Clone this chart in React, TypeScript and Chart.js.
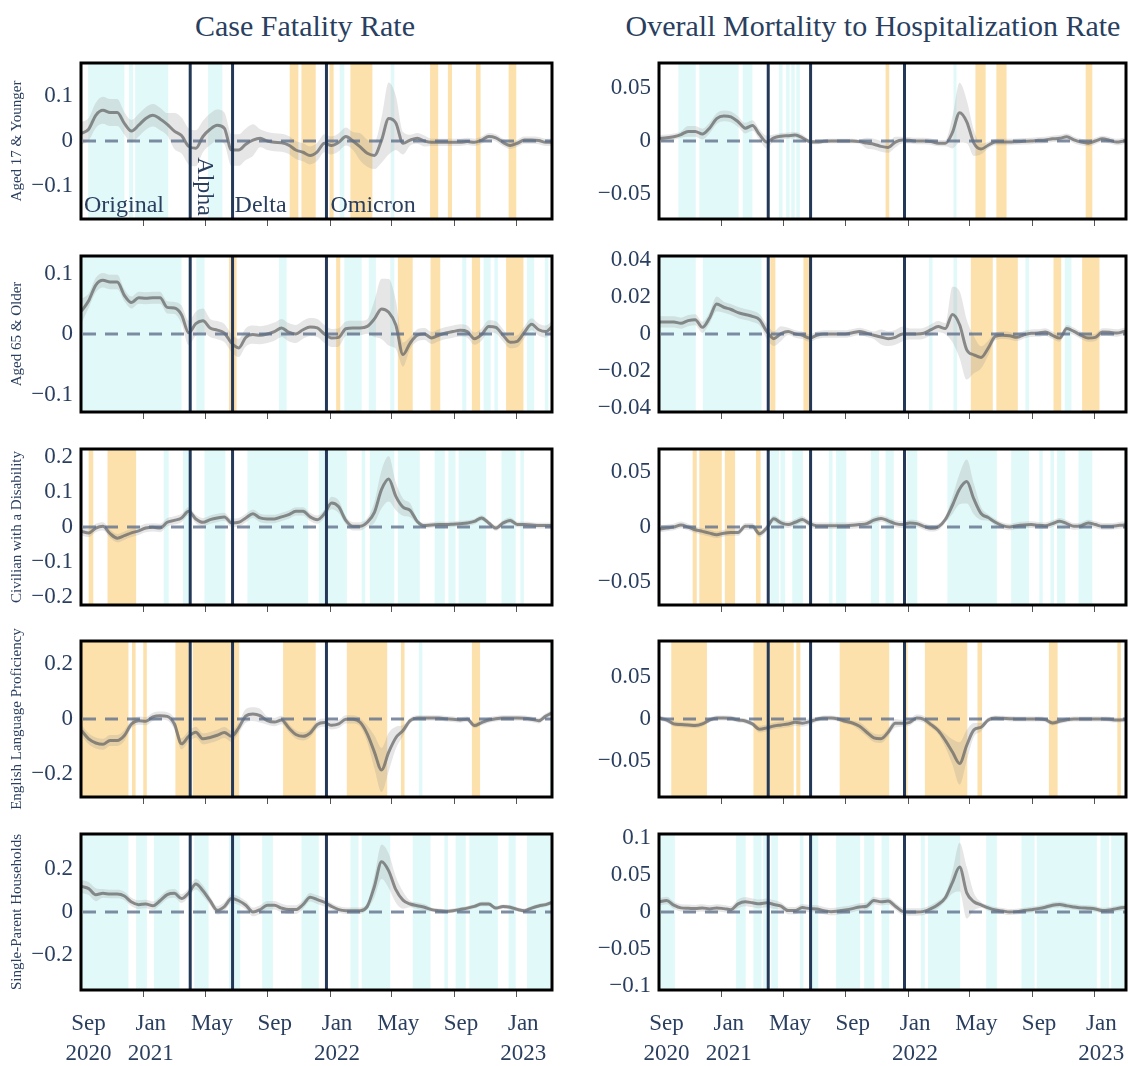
import React, { useEffect, useRef } from "react";
import { Chart, registerables } from "chart.js";

Chart.register(...registerables);

const SERIF = "'Liberation Serif', 'Times New Roman', Times, serif";
const TEXT = "#2a3f5f";
const POS_FILL = "rgba(150, 232, 232, 0.28)";
const NEG_FILL = "rgba(252, 196, 90, 0.5)";
const BAND_FILL = "rgba(140, 140, 140, 0.22)";
const LINE_COLOR = "rgba(100, 100, 100, 0.72)";
const ZERO_COLOR = "rgba(95, 112, 140, 0.8)";
const VLINE_COLOR = "#243858";

// ---- data: days since 1 Sep 2020 ----
const DAYS = [0,14,28,42,56,70,84,98,112,126,140,154,168,182,196,210,224,238,252,266,280,294,308,322,336,350,364,378,392,406,420,434,448,462,476,490,504,518,532,546,560,574,588,602,616,630,644,658,672,686,700,714,728,742,756,770,784,798,812,826,840,854,868,882,896,910,924];

const X_TICK_DAYS = [0, 122, 242, 365, 487, 607, 730, 852];
const X_TICK_LABELS = [["Sep", "2020"], ["Jan", "2021"], ["May"], ["Sep"], ["Jan", "2022"], ["May"], ["Sep"], ["Jan", "2023"]];
const VARIANT_DAYS = [213, 296, 480];
const VARIANT_NAMES = ["Original", "Alpha", "Delta", "Omicron"];

const COL_TITLES = ["Case Fatality Rate", "Overall Mortality to Hospitalization Rate"];
const ROW_LABELS = ["Aged 17 & Younger", "Aged 65 & Older", "Civilian with a Disability", "English Language Proficiency", "Single-Parent Households"];

// Row 1: Aged 17 & Younger
const CFR_AGED17 = [0.017,0.026,0.057,0.068,0.063,0.063,0.039,0.022,0.035,0.05,0.057,0.049,0.037,0.022,0.012,-0.012,-0.016,0.01,0.026,0.035,0.028,-0.02,-0.02,-0.007,0.002,0.006,0,-0.003,-0.004,-0.009,-0.02,-0.025,-0.032,-0.024,-0.005,-0.01,-0.003,0.01,0,-0.013,-0.027,-0.032,0.002,0.05,0.04,-0.005,0.002,0.006,0,-0.003,-0.003,-0.003,-0.003,-0.003,-0.001,-0.003,0.002,0.01,0.007,-0.003,-0.01,-0.005,0.002,0.002,0.001,-0.003,-0.003];
const CFR_AGED17_CI = [0.025,0.025,0.028,0.03,0.03,0.03,0.025,0.025,0.025,0.025,0.025,0.025,0.025,0.04,0.04,0.04,0.04,0.035,0.035,0.035,0.035,0.035,0.035,0.035,0.035,0.02,0.02,0.02,0.02,0.02,0.02,0.02,0.02,0.02,0.02,0.02,0.02,0.02,0.02,0.03,0.03,0.03,0.05,0.08,0.06,0.025,0.012,0.012,0.012,0.008,0.008,0.008,0.008,0.008,0.008,0.008,0.008,0.008,0.008,0.008,0.008,0.008,0.008,0.008,0.008,0.008,0.008];
const CFR_AGED17_POS = [[13,84],[93,101],[105,170],[248,276],[506,515],[606,613]];
const CFR_AGED17_NEG = [[408,425],[431,459],[486,494],[527,570],[683,699],[718,726],[773,782],[837,852]];

const MHR_AGED17 = [0.0025,0.003,0.004,0.006,0.009,0.009,0.0065,0.012,0.021,0.0235,0.0225,0.018,0.012,0.0145,0.006,-0.001,0.003,0.0045,0.005,0.0055,0.003,-0.0005,-0.001,-0.0003,0,0,0,0,-0.0006,-0.002,-0.003,-0.005,-0.006,-0.001,0.001,0.0006,0,0,-0.0006,-0.002,-0.002,0.008,0.0265,0.018,-0.002,-0.0075,-0.004,-0.001,-0.001,-0.001,-0.0006,-0.0003,0,0.0006,0.001,0.002,0.0025,0.004,0.001,-0.001,-0.002,0,0.002,0.0006,-0.001,0,0.0006];
const MHR_AGED17_CI = [0.003,0.003,0.003,0.003,0.005,0.005,0.005,0.005,0.005,0.005,0.005,0.005,0.005,0.005,0.005,0.006,0.003,0.003,0.003,0.003,0.003,0.002,0.002,0.002,0.002,0.002,0.002,0.002,0.002,0.005,0.005,0.005,0.005,0.005,0.003,0.003,0.003,0.003,0.003,0.003,0.003,0.015,0.028,0.02,0.012,0.005,0.003,0.003,0.003,0.003,0.003,0.003,0.003,0.003,0.003,0.003,0.003,0.003,0.003,0.003,0.003,0.003,0.003,0.003,0.003,0.003,0.003];
const MHR_AGED17_POS = [[37,71],[78,155],[163,182],[234,241],[248,255],[258,265],[268,275],[576,582]];
const MHR_AGED17_NEG = [[443,450],[619,639],[660,680],[835,848]];

// Row 2: Aged 65 & Older
const CFR_AGED65 = [0.038,0.055,0.081,0.089,0.086,0.086,0.064,0.052,0.06,0.059,0.06,0.06,0.044,0.043,0.032,0.002,0.017,0.022,0.01,0.0065,0.0016,-0.015,-0.023,-0.0055,-0.001,-0.002,0,0.004,0.01,0.003,0,0.007,0.0115,0.01,0,-0.0066,-0.0055,0.0087,0.01,0.01,0.0126,0.025,0.0415,0.036,0.015,-0.034,-0.015,-0.002,0,-0.0066,-0.002,0.0016,0.004,0.006,0.004,-0.0077,-0.001,0.0126,0.011,-0.002,-0.0137,-0.012,0.003,0.016,0.007,0.004,0.014];
const CFR_AGED65_CI = [0.02,0.012,0.012,0.012,0.012,0.012,0.01,0.01,0.01,0.01,0.01,0.01,0.01,0.01,0.015,0.02,0.02,0.02,0.015,0.015,0.015,0.015,0.015,0.015,0.015,0.015,0.015,0.015,0.015,0.015,0.015,0.015,0.015,0.015,0.015,0.015,0.015,0.012,0.012,0.012,0.012,0.03,0.05,0.055,0.04,0.02,0.01,0.01,0.01,0.01,0.01,0.01,0.01,0.01,0.01,0.01,0.01,0.01,0.01,0.01,0.01,0.01,0.01,0.01,0.01,0.01,0.01];
const CFR_AGED65_POS = [[-1,196],[225,241],[387,402],[515,549],[563,577],[605,613],[746,754],[788,802],[809,816],[873,887],[908,915]];
const CFR_AGED65_NEG = [[289,304],[499,507],[620,649],[684,703],[765,781],[832,866]];

const MHR_AGED65 = [0.0065,0.0065,0.0065,0.0058,0.0072,0.0077,0.0036,0.0086,0.0162,0.0144,0.0132,0.0115,0.0105,0.0095,0.0077,0.0014,-0.0025,0.0002,0.0014,0,-0.0007,-0.0022,-0.0007,0,0,0,0,0.0007,0.0014,0.0004,-0.0007,-0.0016,-0.0025,-0.0018,0,0,0,0.0004,0.0023,0.004,0.0029,0.0105,0.005,-0.0085,-0.0112,-0.0126,-0.0076,-0.0013,-0.0007,-0.0009,-0.0018,-0.0004,0.0004,0.0005,0.0011,-0.0007,-0.0022,0.0029,0.0014,-0.0007,-0.0022,-0.0018,0.0011,0.0009,0.0005,0.0014,0.0023];
const MHR_AGED65_CI = [0.003,0.003,0.003,0.003,0.003,0.003,0.003,0.003,0.004,0.003,0.003,0.003,0.003,0.003,0.003,0.004,0.004,0.004,0.002,0.002,0.002,0.002,0.002,0.002,0.002,0.002,0.002,0.002,0.002,0.002,0.002,0.004,0.004,0.004,0.004,0.003,0.003,0.003,0.003,0.003,0.003,0.015,0.018,0.016,0.01,0.006,0.004,0.002,0.002,0.002,0.002,0.002,0.002,0.002,0.002,0.002,0.002,0.002,0.002,0.002,0.002,0.002,0.002,0.002,0.002,0.002,0.002];
const MHR_AGED65_POS = [[-1,71],[85,200],[528,535],[576,583],[717,724],[794,807]];
const MHR_AGED65_NEG = [[217,227],[282,296],[610,653],[660,702],[772,787],[828,862]];

// Row 3: Civilian with a Disability
const CFR_DISAB = [-0.0125,-0.017,-0.003,0.002,-0.019,-0.032,-0.025,-0.017,-0.011,-0.003,-0.001,-0.003,0.0135,0.019,0.026,0.045,0.023,0.0135,0.021,0.026,0.029,0.0115,0.0135,0.026,0.038,0.026,0.023,0.023,0.029,0.0355,0.045,0.045,0.029,0.021,0.038,0.069,0.058,0.019,0.002,0.002,0.0135,0.042,0.108,0.138,0.088,0.057,0.048,0.016,0.004,0.006,0.007,0.007,0.008,0.0096,0.0115,0.016,0.026,0.0115,-0.003,0.0115,0.019,0.007,0.007,0.006,0.004,0.004,0.004];
const CFR_DISAB_CI = [0.012,0.012,0.012,0.012,0.012,0.012,0.012,0.012,0.012,0.012,0.012,0.012,0.012,0.012,0.012,0.012,0.012,0.012,0.012,0.012,0.012,0.012,0.012,0.012,0.012,0.012,0.012,0.012,0.012,0.012,0.012,0.012,0.012,0.012,0.012,0.018,0.018,0.012,0.012,0.012,0.012,0.03,0.055,0.065,0.04,0.025,0.02,0.008,0.008,0.008,0.008,0.008,0.008,0.008,0.008,0.008,0.008,0.008,0.008,0.008,0.008,0.008,0.008,0.008,0.008,0.008,0.008];
const CFR_DISAB_POS = [[161,171],[199,214],[241,282],[325,444],[465,520],[549,556],[565,613],[620,663],[692,712],[719,733],[739,793],[823,851],[860,867]];
const CFR_DISAB_NEG = [[14,23],[51,107]];

const MHR_DISAB = [-0.0019,-0.0009,0,0.0019,0,-0.0025,-0.004,-0.0056,-0.0071,-0.0056,-0.005,-0.005,0.0006,0.0006,-0.0062,-0.0009,0.0074,0.0037,0.0022,0.0043,0.0068,0.0031,0.0012,0.0012,0.0012,0.0012,0.0012,0.0015,0.0022,0.0031,0.0062,0.0077,0.0056,0.0031,0.0022,0.0037,0.0031,0.0006,-0.0012,0,0.0068,0.0198,0.0346,0.0414,0.0253,0.0123,0.0086,0.0043,0.0012,0,0.0012,0.0019,0.0022,0.0015,0.0012,0.0031,0.0052,0.0031,0.0006,0.0012,0.0037,0.0022,0.0006,0.0006,0.0012,0.0019,0.0022];
const MHR_DISAB_CI = [0.003,0.003,0.003,0.003,0.003,0.003,0.003,0.003,0.003,0.003,0.003,0.003,0.003,0.003,0.003,0.003,0.003,0.003,0.003,0.003,0.003,0.003,0.003,0.003,0.003,0.003,0.003,0.003,0.003,0.003,0.003,0.003,0.003,0.003,0.003,0.003,0.003,0.003,0.003,0.003,0.003,0.008,0.014,0.02,0.014,0.006,0.003,0.003,0.003,0.003,0.003,0.003,0.003,0.003,0.003,0.003,0.003,0.003,0.003,0.003,0.003,0.003,0.003,0.003,0.003,0.003,0.003];
const MHR_DISAB_POS = [[217,234],[237,246],[260,281],[332,339],[346,366],[414,430],[443,459],[485,505],[564,661],[689,724],[744,751],[766,773],[779,795],[821,848],[910,920]];
const MHR_DISAB_NEG = [[65,73],[78,122],[128,148],[189,198]];

// Row 4: English Language Proficiency
const CFR_ELP = [-0.042,-0.072,-0.087,-0.092,-0.078,-0.078,-0.06,-0.018,-0.006,-0.008,0.008,0.012,0.0096,-0.018,-0.09,-0.063,-0.048,-0.072,-0.067,-0.059,-0.049,-0.063,-0.032,0.011,0.018,0.012,-0.006,-0.011,-0.0036,-0.032,-0.056,-0.063,-0.051,-0.02,-0.013,-0.023,-0.018,-0.001,-0.001,-0.012,-0.054,-0.12,-0.185,-0.12,-0.068,-0.042,-0.006,0.0036,0.0036,0.0036,0.0036,0.0012,-0.001,-0.0036,-0.001,-0.024,-0.013,-0.0036,0.0012,0.0036,0.0036,0.0036,0.0024,-0.001,-0.006,0.011,0.024];
const CFR_ELP_CI = [0.02,0.02,0.02,0.02,0.02,0.02,0.02,0.015,0.015,0.015,0.015,0.015,0.015,0.02,0.02,0.02,0.02,0.02,0.02,0.02,0.02,0.02,0.02,0.025,0.025,0.025,0.015,0.015,0.015,0.015,0.015,0.015,0.015,0.015,0.015,0.015,0.015,0.015,0.015,0.015,0.03,0.06,0.08,0.07,0.04,0.02,0.01,0.01,0.01,0.01,0.01,0.01,0.01,0.01,0.01,0.01,0.01,0.01,0.01,0.01,0.01,0.01,0.01,0.01,0.01,0.01,0.01];
const CFR_ELP_POS = [[661,668],[918,925]];
const CFR_ELP_NEG = [[-1,92],[99,106],[121,128],[184,212],[218,309],[395,459],[520,599],[626,633],[765,781]];

const MHR_ELP = [0.0012,-0.0012,-0.0058,-0.0066,-0.007,-0.0078,-0.0058,-0.0012,0.0012,0.0012,0.0008,-0.0012,-0.0023,-0.0058,-0.012,-0.0105,-0.0082,-0.007,-0.0058,-0.0039,-0.005,-0.0031,-0.0004,0.0012,0.0012,0,-0.0027,-0.0047,-0.0086,-0.0156,-0.0222,-0.0233,-0.0156,-0.005,-0.005,-0.0039,0.0012,-0.0004,-0.0066,-0.0136,-0.0253,-0.039,-0.0525,-0.031,-0.0128,-0.0097,-0.0012,0.0012,0.0008,0.0004,0,0,0,0,-0.0008,-0.0047,-0.0027,-0.0008,0,0,0,0,0,-0.0004,-0.0012,-0.0008,0];
const MHR_ELP_CI = [0.003,0.003,0.003,0.003,0.003,0.003,0.003,0.003,0.003,0.003,0.003,0.003,0.003,0.003,0.004,0.004,0.004,0.004,0.004,0.004,0.004,0.004,0.003,0.003,0.003,0.003,0.003,0.003,0.005,0.005,0.005,0.005,0.005,0.005,0.004,0.004,0.004,0.004,0.004,0.004,0.008,0.015,0.025,0.018,0.008,0.005,0.003,0.003,0.003,0.003,0.003,0.003,0.003,0.003,0.003,0.003,0.003,0.003,0.003,0.003,0.003,0.003,0.003,0.003,0.003,0.003,0.003];
const MHR_ELP_POS = [];
const MHR_ELP_NEG = [[23,93],[184,263],[268,276],[353,450],[483,486],[520,603],[623,632],[763,780],[897,904]];

// Row 5: Single-Parent Households
const CFR_SINGLE = [0.118,0.108,0.08,0.086,0.083,0.083,0.074,0.046,0.034,0.037,0.029,0.052,0.08,0.086,0.062,0.088,0.129,0.098,0.052,0.008,0.025,0.062,0.052,0.031,0,0.011,0.031,0.031,0.018,0.011,0.011,0.034,0.068,0.057,0.045,0.026,0.011,0.006,0.006,0.006,0.026,0.118,0.232,0.19,0.103,0.055,0.037,0.029,0.022,0.011,0.006,0.003,0.006,0.012,0.018,0.026,0.037,0.037,0.018,0.025,0.022,0.012,0.006,0.018,0.028,0.034,0.046];
const CFR_SINGLE_CI = [0.03,0.03,0.03,0.02,0.02,0.02,0.02,0.02,0.02,0.02,0.02,0.02,0.02,0.02,0.02,0.02,0.025,0.025,0.02,0.02,0.02,0.02,0.02,0.02,0.02,0.02,0.02,0.02,0.02,0.02,0.02,0.02,0.02,0.02,0.02,0.015,0.015,0.015,0.015,0.015,0.015,0.05,0.08,0.08,0.06,0.04,0.015,0.015,0.015,0.01,0.01,0.01,0.01,0.01,0.01,0.01,0.01,0.01,0.01,0.01,0.01,0.01,0.01,0.01,0.01,0.01,0.01];
const CFR_SINGLE_POS = [[-1,92],[107,128],[142,192],[221,249],[289,311],[354,375],[431,465],[527,543],[549,605],[649,684],[711,718],[733,753],[760,816],[837,851],[873,925]];
const CFR_SINGLE_NEG = [];

const MHR_SINGLE = [0.0139,0.0157,0.0093,0.0056,0.0051,0.0046,0.0056,0.0042,0.0056,0.0046,0.0032,0.0111,0.0139,0.0125,0.0111,0.0125,0.0102,0.0079,0.0019,0.0019,0.006,0.0046,0.0042,0.0019,0.0005,0.0014,0.0028,0.0046,0.0069,0.0079,0.0157,0.0139,0.0148,0.0079,0.0009,0,0,0.0009,0.0046,0.0102,0.0194,0.0403,0.061,0.026,0.0139,0.0097,0.0056,0.0028,0.0014,0,0.0005,0.0019,0.0032,0.0046,0.0065,0.0093,0.0102,0.0083,0.0069,0.0056,0.0051,0.0042,0.0019,0.0028,0.0046,0.006,0.0065];
const MHR_SINGLE_CI = [0.005,0.005,0.005,0.005,0.005,0.005,0.005,0.005,0.005,0.005,0.005,0.006,0.006,0.006,0.006,0.006,0.006,0.005,0.005,0.005,0.005,0.005,0.005,0.005,0.005,0.005,0.005,0.005,0.005,0.005,0.005,0.005,0.005,0.005,0.005,0.005,0.005,0.005,0.005,0.005,0.005,0.015,0.033,0.035,0.012,0.004,0.004,0.004,0.004,0.004,0.004,0.004,0.004,0.004,0.004,0.004,0.004,0.004,0.004,0.004,0.004,0.004,0.004,0.004,0.004,0.004,0.004];
const MHR_SINGLE_POS = [[-1,30],[150,169],[184,200],[203,211],[219,232],[275,282],[296,311],[346,393],[401,421],[435,450],[512,520],[526,589],[640,661],[709,735],[739,857],[864,881],[885,917]];
const MHR_SINGLE_NEG = [];

const Y_LIMITS = [0.173, 0.073, 0.129, 0.042, 0.224, 0.071, 0.283, 0.092, 0.36, 0.106];
const Y_TICKS = [
  [-0.1, 0, 0.1], [-0.05, 0, 0.05],
  [-0.1, 0, 0.1], [-0.04, -0.02, 0, 0.02, 0.04],
  [-0.2, -0.1, 0, 0.1, 0.2], [-0.05, 0, 0.05],
  [-0.2, 0, 0.2], [-0.05, 0, 0.05],
  [-0.2, 0, 0.2], [-0.1, -0.05, 0, 0.05, 0.1],
];

const PANELS = [
  { mean: CFR_AGED17, ci: CFR_AGED17_CI, pos: CFR_AGED17_POS, neg: CFR_AGED17_NEG },
  { mean: MHR_AGED17, ci: MHR_AGED17_CI, pos: MHR_AGED17_POS, neg: MHR_AGED17_NEG },
  { mean: CFR_AGED65, ci: CFR_AGED65_CI, pos: CFR_AGED65_POS, neg: CFR_AGED65_NEG },
  { mean: MHR_AGED65, ci: MHR_AGED65_CI, pos: MHR_AGED65_POS, neg: MHR_AGED65_NEG },
  { mean: CFR_DISAB, ci: CFR_DISAB_CI, pos: CFR_DISAB_POS, neg: CFR_DISAB_NEG },
  { mean: MHR_DISAB, ci: MHR_DISAB_CI, pos: MHR_DISAB_POS, neg: MHR_DISAB_NEG },
  { mean: CFR_ELP, ci: CFR_ELP_CI, pos: CFR_ELP_POS, neg: CFR_ELP_NEG },
  { mean: MHR_ELP, ci: MHR_ELP_CI, pos: MHR_ELP_POS, neg: MHR_ELP_NEG },
  { mean: CFR_SINGLE, ci: CFR_SINGLE_CI, pos: CFR_SINGLE_POS, neg: CFR_SINGLE_NEG },
  { mean: MHR_SINGLE, ci: MHR_SINGLE_CI, pos: MHR_SINGLE_POS, neg: MHR_SINGLE_NEG },
];

// ---- layout ----
const COL_LEFT = [81, 659];
const COL_W = [471, 467];
const X_MAX = [922, 914];
const ROW_TOP = [63, 256, 449, 641, 834];
const ROW_H = 156;
const Y_AXIS_W = 80;
const PAD_T = 6;
const PAD_R = 3;

const fmtY = (v: number) => (v === 0 ? "0" : v < 0 ? "\u2212" + String(Math.abs(v)) : String(v));

function decoPlugin(panel: any, showVariantLabels: boolean) {
  return {
    id: "deco",
    beforeDatasetsDraw(chart: any) {
      const { ctx, chartArea: a, scales } = chart;
      const x = scales.x;
      ctx.save();
      ctx.beginPath();
      ctx.rect(a.left, a.top, a.right - a.left, a.bottom - a.top);
      ctx.clip();
      const draw = (list: number[][], color: string) => {
        ctx.fillStyle = color;
        for (const [s, e] of list) {
          const x0 = x.getPixelForValue(s);
          const x1 = x.getPixelForValue(e);
          ctx.fillRect(x0, a.top, x1 - x0, a.bottom - a.top);
        }
      };
      draw(panel.pos, POS_FILL);
      draw(panel.neg, NEG_FILL);
      ctx.restore();
    },
    afterDatasetsDraw(chart: any) {
      const { ctx, chartArea: a, scales } = chart;
      const y0 = scales.y.getPixelForValue(0);
      ctx.save();
      ctx.beginPath();
      ctx.rect(a.left, a.top, a.right - a.left, a.bottom - a.top);
      ctx.clip();
      ctx.setLineDash([13, 9]);
      ctx.strokeStyle = ZERO_COLOR;
      ctx.lineWidth = 3.2;
      ctx.beginPath();
      ctx.moveTo(a.left + 2, y0);
      ctx.lineTo(a.right, y0);
      ctx.stroke();
      ctx.setLineDash([]);
      ctx.strokeStyle = VLINE_COLOR;
      ctx.lineWidth = 3;
      for (const d of VARIANT_DAYS) {
        const px = scales.x.getPixelForValue(d);
        ctx.beginPath();
        ctx.moveTo(px, a.top);
        ctx.lineTo(px, a.bottom);
        ctx.stroke();
      }
      ctx.restore();
    },
    afterDraw(chart: any) {
      const { ctx, chartArea: a, scales } = chart;
      if (showVariantLabels) {
        ctx.save();
        ctx.fillStyle = TEXT;
        ctx.font = `24px ${SERIF}`;
        ctx.textAlign = "left";
        ctx.textBaseline = "alphabetic";
        const base = a.bottom - 7;
        ctx.fillText(VARIANT_NAMES[0], a.left + 3, base);
        ctx.fillText(VARIANT_NAMES[2], scales.x.getPixelForValue(VARIANT_DAYS[1]) + 2, base);
        ctx.fillText(VARIANT_NAMES[3], scales.x.getPixelForValue(VARIANT_DAYS[2]) + 4, base);
        const w = ctx.measureText(VARIANT_NAMES[1]).width;
        ctx.translate(scales.x.getPixelForValue(VARIANT_DAYS[0]) + 8, a.bottom - 3 - w);
        ctx.rotate(Math.PI / 2);
        ctx.fillText(VARIANT_NAMES[1], 0, 0);
        ctx.restore();
      }
      ctx.save();
      ctx.strokeStyle = "#000";
      ctx.lineWidth = 3;
      ctx.strokeRect(a.left, a.top, a.right - a.left, a.bottom - a.top);
      ctx.restore();
    },
  };
}

function makeChart(canvas: HTMLCanvasElement, index: number) {
  const row = Math.floor(index / 2);
  const col = index % 2;
  const panel = PANELS[index];
  const isBottom = row === 4;
  const xh = isBottom ? 75 : 10;
  const ymax = Y_LIMITS[index];
  const pts = (arr: number[]) => DAYS.map((d, i) => ({ x: d, y: arr[i] }));
  const upper = panel.mean.map((m: number, i: number) => m + panel.ci[i]);
  const lower = panel.mean.map((m: number, i: number) => m - panel.ci[i]);
  const font = { family: SERIF, size: 23, lineHeight: 1.3 };
  return new Chart(canvas, {
    type: "line",
    data: {
      datasets: [
        { data: pts(panel.mean), borderColor: LINE_COLOR, borderWidth: 3, pointRadius: 0, fill: false, cubicInterpolationMode: "monotone" },
        { data: pts(upper), borderWidth: 0, borderColor: "rgba(0,0,0,0)", pointRadius: 0, fill: "+1", backgroundColor: BAND_FILL, cubicInterpolationMode: "monotone" },
        { data: pts(lower), borderWidth: 0, borderColor: "rgba(0,0,0,0)", pointRadius: 0, fill: false, cubicInterpolationMode: "monotone" },
      ],
    },
    options: {
      animation: false,
      responsive: false,
      devicePixelRatio: 1,
      events: [],
      layout: { padding: { top: PAD_T, right: PAD_R, left: 0, bottom: 0 } },
      plugins: { legend: { display: false }, tooltip: { enabled: false }, title: { display: false } },
      scales: {
        x: {
          type: "linear",
          min: -1,
          max: X_MAX[col],
          afterBuildTicks: (s: any) => {
            s.ticks = X_TICK_DAYS.map((v) => ({ value: v }));
          },
          afterFit: (s: any) => {
            s.height = xh;
            s.paddingLeft = 0;
            s.paddingRight = 0;
            s.paddingTop = 0;
            s.paddingBottom = 0;
          },
          grid: {
            drawOnChartArea: false,
            drawTicks: true,
            tickLength: 7,
            lineWidth: 1,
            color: (c: any) => (c.tick && c.tick.value === 0 ? "rgba(0,0,0,0)" : "#555"),
          },
          border: { display: false },
          ticks: {
            autoSkip: false,
            maxRotation: 0,
            minRotation: 0,
            labelOffset: 7,
            padding: 12,
            color: TEXT,
            font,
            callback: (v: any) => (isBottom ? X_TICK_LABELS[X_TICK_DAYS.indexOf(v)] || "" : ""),
          },
        },
        y: {
          min: -ymax,
          max: ymax,
          afterBuildTicks: (s: any) => {
            s.ticks = Y_TICKS[index].map((v) => ({ value: v }));
          },
          afterFit: (s: any) => {
            s.width = Y_AXIS_W;
            s.paddingLeft = 0;
            s.paddingRight = 0;
            s.paddingTop = 0;
            s.paddingBottom = 0;
          },
          grid: { display: false, drawTicks: false },
          border: { display: false },
          ticks: { autoSkip: false, padding: 8, color: TEXT, font, callback: (v: any) => fmtY(v) },
        },
      },
    } as any,
    plugins: [decoPlugin(panel, index === 0)],
  } as any);
}

function Panel({ index }: { index: number }) {
  const ref = useRef<HTMLCanvasElement>(null);
  const row = Math.floor(index / 2);
  const col = index % 2;
  const xh = row === 4 ? 75 : 10;
  const w = Y_AXIS_W + COL_W[col] + PAD_R;
  const h = PAD_T + ROW_H + xh;
  useEffect(() => {
    const chart = makeChart(ref.current as HTMLCanvasElement, index);
    return () => chart.destroy();
  }, [index]);
  return (
    <canvas
      ref={ref}
      width={w}
      height={h}
      style={{ position: "absolute", left: COL_LEFT[col] - Y_AXIS_W, top: ROW_TOP[row] - PAD_T, width: w, height: h }}
    />
  );
}

const TITLE_CENTERS = [305, 873];

export default function App() {
  return (
    <div style={{ position: "absolute", left: 0, top: 0, width: 1128, height: 1066, overflow: "hidden", background: "#fff", fontFamily: SERIF, color: TEXT }}>
      {PANELS.map((_, i) => (
        <Panel key={i} index={i} />
      ))}
      {COL_TITLES.map((t, i) => (
        <div
          key={"t" + i}
          style={{ position: "absolute", left: TITLE_CENTERS[i], top: 11, transform: "translateX(-50%)", fontSize: 30, lineHeight: "30px", whiteSpace: "nowrap" }}
        >
          {t}
        </div>
      ))}
      {ROW_LABELS.map((t, i) => (
        <div
          key={"r" + i}
          style={{
            position: "absolute",
            left: 16,
            top: ROW_TOP[i] + ROW_H / 2,
            transform: "translate(-50%, -50%) rotate(-90deg)",
            fontSize: 15,
            lineHeight: "16px",
            whiteSpace: "nowrap",
          }}
        >
          {t}
        </div>
      ))}
    </div>
  );
}
